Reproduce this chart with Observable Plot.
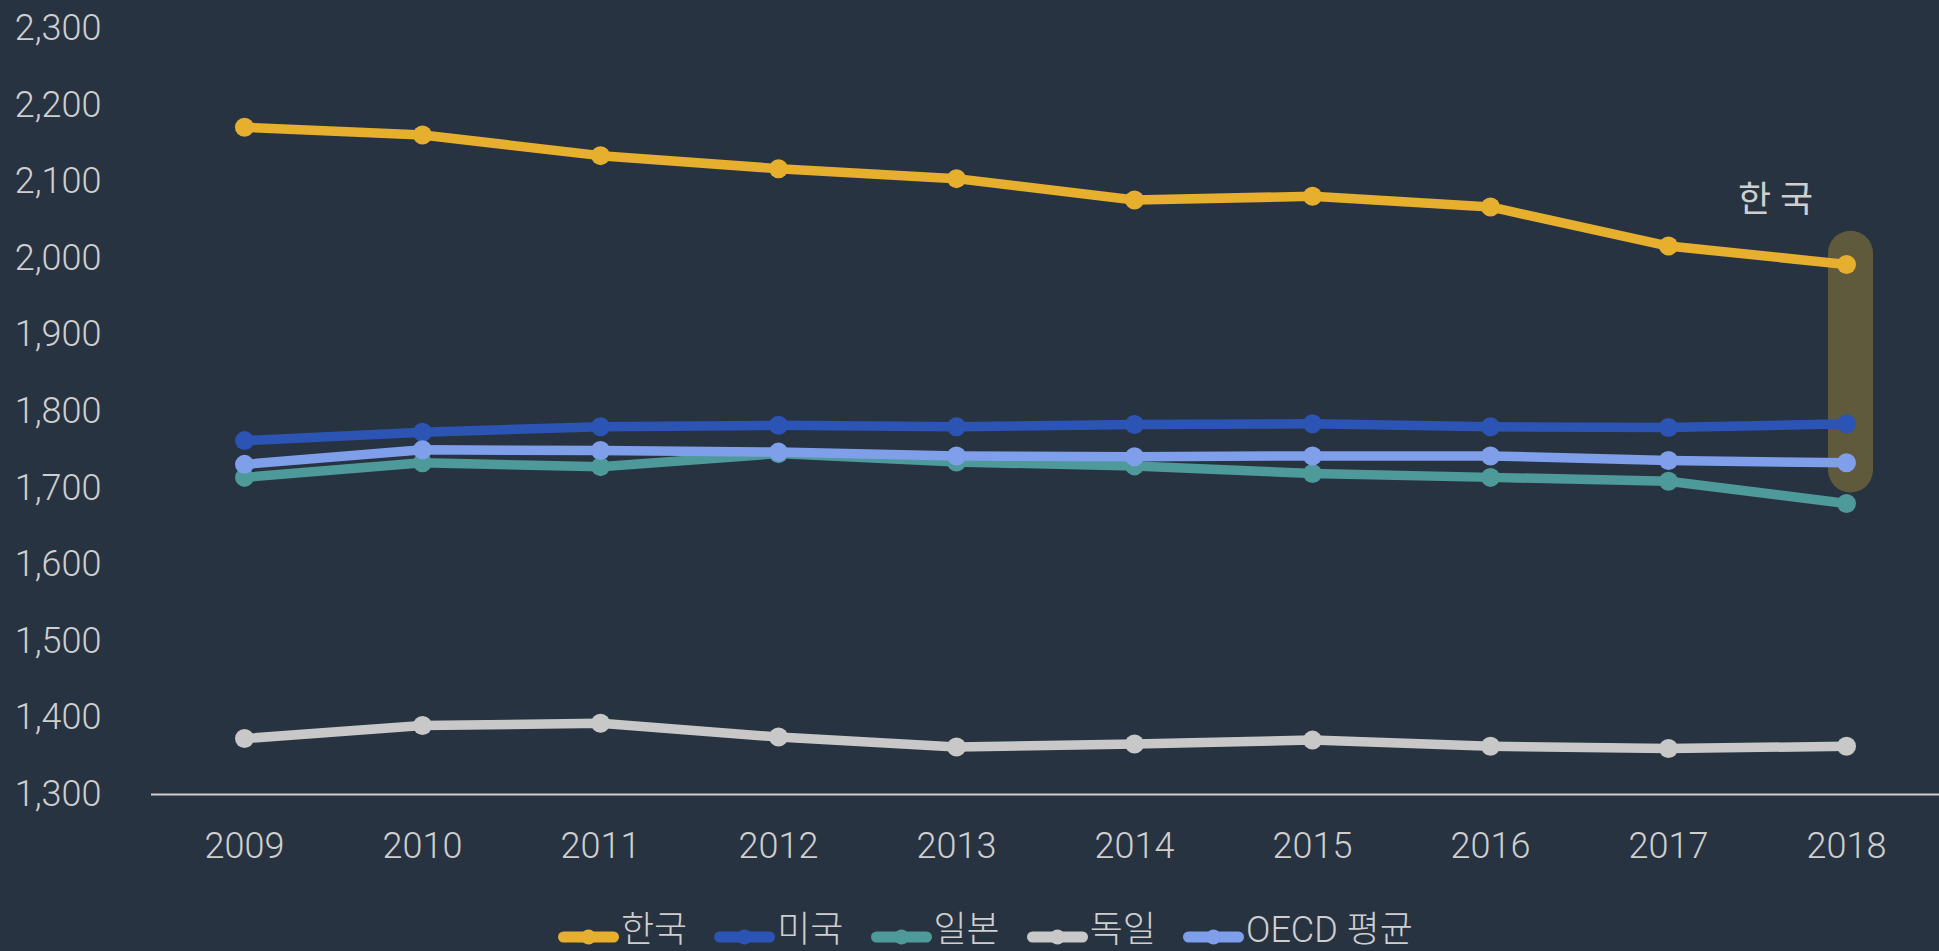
<!DOCTYPE html>
<html>
<head>
<meta charset="utf-8">
<script src="https://cdn.jsdelivr.net/npm/d3@7"></script>
<script src="https://cdn.jsdelivr.net/npm/@observablehq/plot@0.6"></script>
<style>
  html, body { margin: 0; padding: 0; background: #283341; overflow: hidden; }
  body { width: 1939px; height: 951px; position: relative; font-family: Roboto, "Noto Sans CJK KR", sans-serif; }
  #legend { position: absolute; left: 558px; top: 912px; display: flex; align-items: center; gap: 27px; }
  .item { display: flex; align-items: center; }
  .item svg { margin-right: 2px; margin-top: 14px; }
  .item span { font-size: 36px; line-height: 36px; color: #cfcfcf; font-weight: 300; font-family: Roboto, "Noto Sans CJK KR", sans-serif; }
</style>
</head>
<body>
<div id="chart"></div>
<div id="legend"></div>
<script>
const years = ["2009", "2010", "2011", "2012", "2013", "2014", "2015", "2016", "2017", "2018"];
const korea   = [2171, 2161, 2134, 2117, 2104, 2076, 2081, 2067, 2016, 1992];
const usa     = [1762, 1773, 1780, 1782, 1780, 1783, 1784, 1780, 1779, 1784];
const japan   = [1714, 1733, 1728, 1745, 1734, 1729, 1719, 1714, 1709, 1680];
const germany = [1373, 1390, 1393, 1375, 1362, 1366, 1371, 1363, 1360, 1363];
const oecd    = [1731, 1750, 1749, 1747, 1742, 1741, 1742, 1742, 1736, 1733];
const seriesNames = ["한국", "미국", "일본", "독일", "OECD 평균"];
const seriesValues = [korea, usa, japan, germany, oecd];
const seriesColors = ["#E6B02E", "#2C54B5", "#4E9A9A", "#C8C8C8", "#7F9FEA"];
const yTicks = [1300, 1400, 1500, 1600, 1700, 1800, 1900, 2000, 2100, 2200, 2300];
const highlight = {year: "2018", from: 2006, to: 1723};
const annotation = {year: "2018", value: 2075, label: "한 국"};

const seriesMarks = [];
seriesNames.forEach((name, i) => {
  const rows = years.map((yr, j) => ({year: yr, value: seriesValues[i][j], series: name}));
  seriesMarks.push(Plot.line(rows, {x: "year", y: "value", stroke: seriesColors[i], strokeWidth: 9.5, strokeLinejoin: "round", strokeLinecap: "round"}));
  seriesMarks.push(Plot.dot(rows, {x: "year", y: "value", fill: seriesColors[i], r: 9.5, stroke: null}));
});

const chart = Plot.plot({
  width: 1939,
  height: 880,
  marginLeft: 151,
  marginRight: 0,
  marginTop: 28,
  marginBottom: 86,
  style: {background: "transparent", color: "#cfcfcf", fontFamily: 'Roboto, "Noto Sans CJK KR", sans-serif', fontSize: "36px", fontWeight: 300, overflow: "visible"},
  x: {type: "point", domain: years, padding: 0.5, label: null, tickSize: 0, tickPadding: 38},
  y: {domain: [1300, 2300], ticks: yTicks, tickFormat: d3.format(","), label: null, tickSize: 0, tickPadding: 50},
  marks: [
    Plot.ruleY([1300], {stroke: "#cfcfcf", strokeWidth: 2}),
    Plot.ruleX([highlight], {x: "year", y1: "from", y2: "to", stroke: "#5E5A3B", strokeWidth: 45, strokeLinecap: "round", dx: 4}),
    ...seriesMarks,
    Plot.text([annotation], {x: "year", y: "value", text: "label", dx: -71, fontSize: 36, fontWeight: 400, fill: "#cfcfcf"})
  ]
});
document.getElementById("chart").appendChild(chart);

const legend = document.getElementById("legend");
seriesNames.forEach((name, i) => {
  const item = document.createElement("div");
  item.className = "item";
  item.innerHTML = `<svg width="61" height="16" viewBox="0 0 61 16"><line x1="5.5" y1="8" x2="55.5" y2="8" stroke="${seriesColors[i]}" stroke-width="11" stroke-linecap="round"/><circle cx="30.5" cy="8" r="7.5" fill="${seriesColors[i]}"/></svg><span>${name}</span>`;
  legend.appendChild(item);
});
</script>
</body>
</html>
